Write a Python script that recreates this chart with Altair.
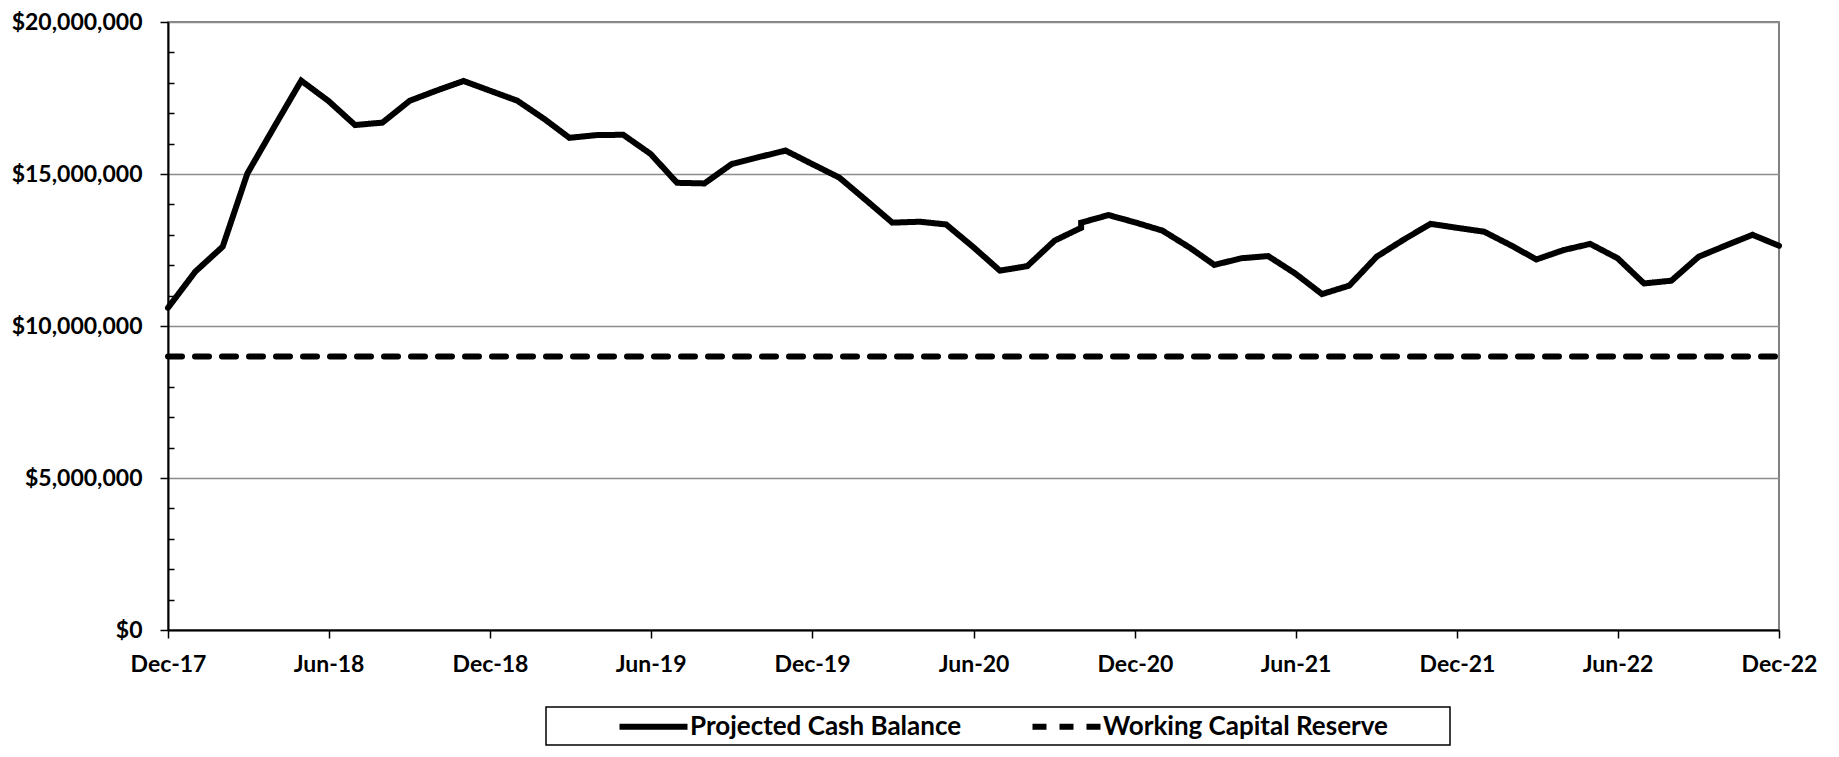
import altair as alt
import pandas as pd

# ---- data ----
series_names = ["Projected Cash Balance", "Working Capital Reserve"]
months = pd.date_range("2017-12-01", "2022-12-01", freq="MS").strftime("%Y-%m-%d").tolist()

# Projected cash balance, $ millions, one per month Dec-17 .. Dec-22
cash_m = [10.60, 11.79, 12.61, 15.02, 16.58, 18.07, 17.40, 16.61, 16.69, 17.41,
          17.74, 18.06, 17.74, 17.41, 16.80, 16.19, 16.28, 16.29, 15.66, 14.71,
          14.69, 15.33, 15.55, 15.77, 15.33, 14.88, 14.12, 13.40, 13.43, 13.34,
          12.59, 11.82, 11.97, 12.81, 13.23, 13.65, 13.41, 13.14, 12.58, 12.01,
          12.23, 12.30, 11.72, 11.05, 11.33, 12.28, 12.83, 13.36, 13.23, 13.10,
          12.64, 12.19, 12.50, 12.70, 12.23, 11.40, 11.49, 12.28, 12.64, 13.00,
          12.64]
# small restart step in the series at Oct-20
restart_month = "2020-10-01"
restart_value_m = 13.40

reserve_m = 9.0

x_tick_months = months[::6]
y_major = [0, 5_000_000, 10_000_000, 15_000_000, 20_000_000]
y_minor = [v * 1_000_000 for v in range(0, 21) if v % 5 != 0]

# ---- table ----
rows = []
order = 0
for m, v in zip(months, cash_m):
    rows.append({"date": m, "value": v * 1e6, "series": series_names[0], "ord": order})
    order += 1
    if m == restart_month:
        rows.append({"date": m, "value": restart_value_m * 1e6, "series": series_names[0], "ord": order})
        order += 1
for m in months:
    rows.append({"date": m, "value": reserve_m * 1e6, "series": series_names[1], "ord": order})
    order += 1
df = pd.DataFrame(rows)

FONT = "Lato"
AXFS = 23
LGFS = 26
# invisible right-hand spacing for the legend frame (ZWSP keeps it from being trimmed)
PAD = "\u00a0" * 9 + "\u200b"


def dt(s):
    y, mo, d = (int(p) for p in s.split("-"))
    return alt.DateTime(year=y, month=mo, date=d, utc=True)


x_scale = alt.Scale(type="utc", domain=[dt(months[0]), dt(months[-1])], nice=False)
x_axis = alt.Axis(
    values=[dt(m) for m in x_tick_months],
    labelExpr="utcFormat(datum.value, '%b-%y')",
    labelFlush=False,
    labelAlign="center",
    title=None,
    grid=False,
    tickSize=8,
    tickColor="black",
    tickWidth=1.5,
    domainColor="black",
    domainWidth=2,
    labelPadding=15,
    labelFont=FONT,
    labelFontSize=AXFS,
    labelFontWeight="bold",
    labelColor="black",
)
x_enc = alt.X("date:T", scale=x_scale, axis=x_axis)

y_scale = alt.Scale(domain=[0, 20_000_000], nice=False)

legend = alt.Legend(
    title=None,
    orient="none",
    legendX=378,
    legendY=685,
    direction="horizontal",
    symbolType="M-3,0H3",
    symbolSize=514,
    symbolStrokeWidth=6,
    symbolOffset=88,
    labelOffset=22,
    columnPadding=2,
    labelLimit=600,
    labelFont=FONT,
    labelFontSize=LGFS,
    labelFontWeight="bold",
    labelColor="black",
    labelExpr=f"datum.label == '{series_names[1]}' ? datum.label + '{PAD}' : datum.label",
    padding=5,
    strokeColor="black",
)

main = alt.Chart(df).mark_line(strokeWidth=6, strokeCap="round", strokeJoin="miter").encode(
    x=x_enc,
    y=alt.Y(
        "value:Q",
        scale=y_scale,
        axis=alt.Axis(
            values=y_major,
            format="$,.0f",
            title=None,
            grid=True,
            gridColor="#8c8c8c",
            gridWidth=1.5,
            tickSize=8,
            tickColor="black",
            tickWidth=1.5,
            domainColor="black",
            domainWidth=2,
            labelPadding=18,
            labelFont=FONT,
            labelFontSize=AXFS,
            labelFontWeight="bold",
            labelColor="black",
        ),
    ),
    color=alt.Color(
        "series:N",
        scale=alt.Scale(domain=series_names, range=["black", "black"]),
        legend=legend,
    ),
    strokeDash=alt.StrokeDash(
        "series:N",
        scale=alt.Scale(domain=series_names, range=[[1, 0], [14, 13]]),
        legend=legend,
    ),
    order=alt.Order("ord:Q"),
)

# inner minor ticks on the value axis (every $1,000,000)
minor = alt.Chart(df).mark_point(opacity=0).encode(
    y=alt.Y(
        "value:Q",
        scale=y_scale,
        axis=alt.Axis(
            orient="left",
            offset=-6,
            values=y_minor,
            labels=False,
            domain=False,
            grid=False,
            tickSize=6,
            tickColor="black",
            tickWidth=1.5,
            title=None,
        ),
    ),
)

chart = (
    alt.layer(main, minor)
    .resolve_axis(y="independent")
    .properties(
        width=1611,
        height=608,
        padding={"left": 160, "top": 14, "right": 44, "bottom": 118},
        autosize=alt.AutoSizeParams(type="none"),
        background="white",
    )
    .configure_view(stroke="#595959", strokeWidth=1.5)
    .configure_legend(strokeWidth=1.5)
)

chart.save("out.html", embed_options={"renderer": "svg", "actions": False})
